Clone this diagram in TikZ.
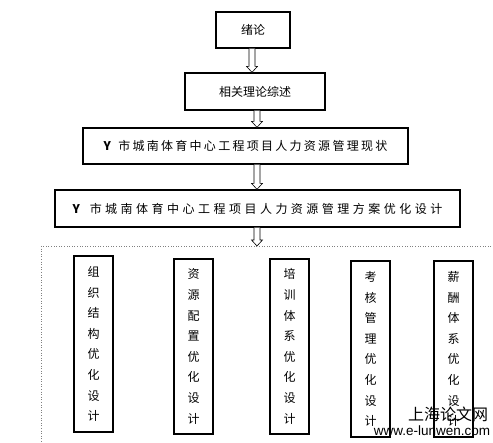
\documentclass[tikz,border=0pt]{standalone}
\usepackage{fontspec}
\setmainfont{Noto Sans CJK SC}
\newfontfamily\latinfont{Liberation Sans}
\usetikzlibrary{calc}
\tikzset{
  box/.style={draw=black, line width=1.3pt, inner sep=0pt, fill=white,
              font={\fontsize{12}{12}\selectfont}},
  vbox/.style={box, minimum width=39pt, align=center,
               font={\fontsize{12}{20.6}\selectfont}},
  hollowarrow/.style={draw=black, line width=0.6pt, fill=white, line join=miter},
  frameline/.style={draw=gray, dotted, line width=0.6pt},
  wmark/.style={inner sep=0pt, text=black}
}
\newcommand\harrow[3]{%
  \draw[hollowarrow] let \p1=(#2), \p2=(#3) in
    (#1pt-3pt,\y1) -- (#1pt-3pt,\y2+6pt) -- (#1pt-5.5pt,\y2+6pt) -- (#1pt,\y2)
    -- (#1pt+5.5pt,\y2+6pt) -- (#1pt+3pt,\y2+6pt) -- (#1pt+3pt,\y1);}
\begin{document}
\begin{tikzpicture}[x=1pt,y=-1pt]
\useasboundingbox[fill=white] (0,0) rectangle (493,443);
% top chain
\node[box, minimum width=74pt, minimum height=36pt] (b1) at (253,30) {绪论};
\node[box, minimum width=140pt, minimum height=37pt] (b2) at (255,91.5) {相关理论综述};
\node[box, minimum width=325pt, minimum height=36pt] (b3) at (245.5,146)
  {\addfontfeature{LetterSpace=19}\textbf{Y} 市城南体育中心工程项目人力资源管理现状};
\node[box, minimum width=405pt, minimum height=37pt] (b4) at (257.5,208.5)
  {\addfontfeature{LetterSpace=29}\textbf{Y} 市城南体育中心工程项目人力资源管理方案优化设计};
% dotted frame
\coordinate (fl) at (40,246);
\coordinate (fr) at (491,246);
\coordinate (fc) at (41,246);
\coordinate (fb) at (41,443);
\coordinate (dl) at (257,246);
\draw[frameline] (fr) -- (fl);
\draw[frameline] (fc) -- (fb);
% arrows
\harrow{252}{b1.south}{b2.north}
\harrow{257}{b2.south}{b3.north}
\harrow{257}{b3.south}{b4.north}
\harrow{257}{b4.south}{dl}
% bottom boxes
\node[vbox, minimum height=176pt] (c1) at (93.5,344) {组\\织\\结\\构\\优\\化\\设\\计};
\node[vbox, minimum height=175pt] (c2) at (193.5,346.5) {资\\源\\配\\置\\优\\化\\设\\计};
\node[vbox, minimum height=175pt] (c3) at (289.5,346.5) {培\\训\\体\\系\\优\\化\\设\\计};
\node[vbox, minimum height=176pt] (c4) at (370.5,349) {考\\核\\管\\理\\优\\化\\设\\计};
\node[vbox, minimum height=176pt] (c5) at (453.5,349) {薪\\酬\\体\\系\\优\\化\\设\\计};
% watermark
\node[wmark, font={\fontsize{16}{16}\selectfont}] (w1) at (448,414) {上海论文网};
\node[wmark, font={\latinfont\fontsize{13.5}{13.5}\selectfont}] (w2) at (432,431) {www.e-lunwen.com};
\end{tikzpicture}
\end{document}
